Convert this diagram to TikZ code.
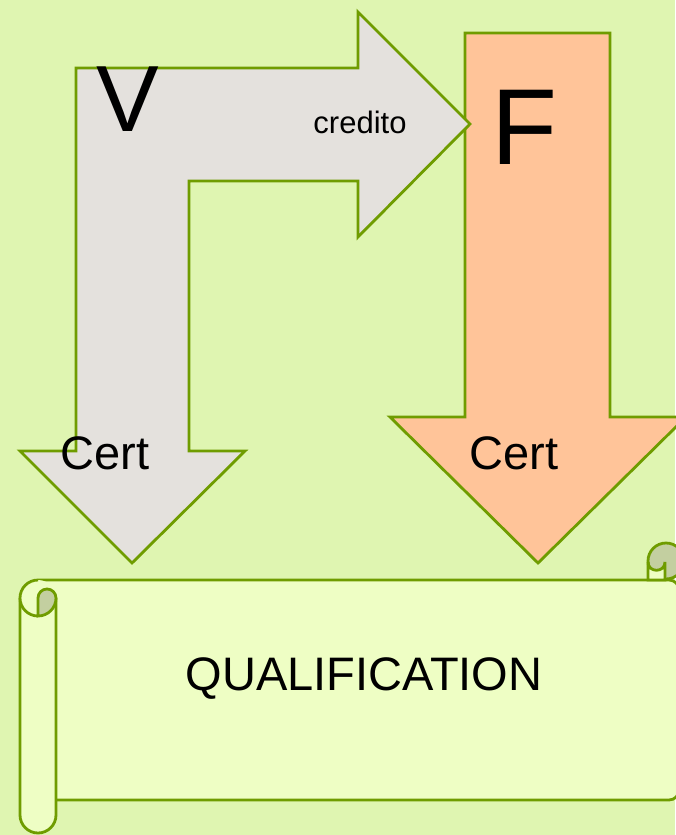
\documentclass[tikz,border=0pt]{standalone}
\usepackage{fontspec}
\setmainfont{Liberation Sans}
\definecolor{bg}{HTML}{DFF5B1}
\definecolor{ln}{HTML}{6F9C00}
\definecolor{grayfill}{HTML}{E4E1DD}
\definecolor{orangefill}{HTML}{FFC499}
\definecolor{scrollfill}{HTML}{EEFEC4}
\definecolor{curlfill}{HTML}{C3CFA0}
\tikzset{
  shp/.style={draw=ln, line width=2.8pt, line join=miter},
  lbl/.style={anchor=base, inner sep=0pt, text=black},
}
\newcommand{\fsz}[1]{\fontsize{#1}{#1}\selectfont}
\begin{document}
\begin{tikzpicture}[x=1pt,y=-1pt]
\useasboundingbox (0,0) rectangle (675,835);
\fill[bg] (0,0) rectangle (675,835);
% orange arrow F
\draw[shp, fill=orangefill] (465,33) -- (610,33) -- (610,417) -- (686,417) -- (538,563) -- (390,417) -- (465,417) -- cycle;
% gray L arrow V
\draw[shp, fill=grayfill] (76,68) -- (358,68) -- (358,12) -- (470,124) -- (358,237) -- (358,181) -- (189,181) -- (189,451) -- (245,451) -- (132,563) -- (20,451) -- (76,451) -- cycle;
% scroll sheet
\fill[scrollfill] (38,580) -- (679,580) -- (679,800) -- (56,800) -- (56,616) -- cycle;
\draw[shp, rounded corners=10pt] (38,580) -- (679,580) -- (679,800) -- (56,800);
% right curl
\draw[shp, fill=curlfill] (666,561) circle[radius=18];
\draw[shp, fill=scrollfill] (648,562) -- (648,580) -- (665,580) -- (665,562) .. controls (665,573) and (648,573) .. (648,562);
% left roll
\draw[shp, fill=scrollfill] (20,598) -- (20,815) arc[start angle=180, end angle=0, radius=18] -- (56,598);
\fill[scrollfill] (38,580) arc[start angle=270, end angle=450, radius=18] -- cycle;
\draw[shp, fill=scrollfill] (38,580) arc[start angle=270, end angle=90, radius=18];
\draw[shp, fill=curlfill] (38,616) arc[start angle=90, end angle=0, radius=18] arc[start angle=0, end angle=-180, radius=9] -- cycle;
% texts
\node[lbl, font=\fsz{94}] (v) at (128,131) {V};
\node[lbl, font=\fsz{108}] (f) at (524,164) {F};
\node[lbl, font=\fsz{31}] (cr) at (360,133) {credito};
\node[lbl, font=\fsz{47}] (c1) at (105,469) {Cert};
\node[lbl, font=\fsz{47}] (c2) at (514,469) {Cert};
\node[lbl, font=\fsz{47}] (q) at (364,690) {QUALIFICATION};
\end{tikzpicture}
\end{document}
